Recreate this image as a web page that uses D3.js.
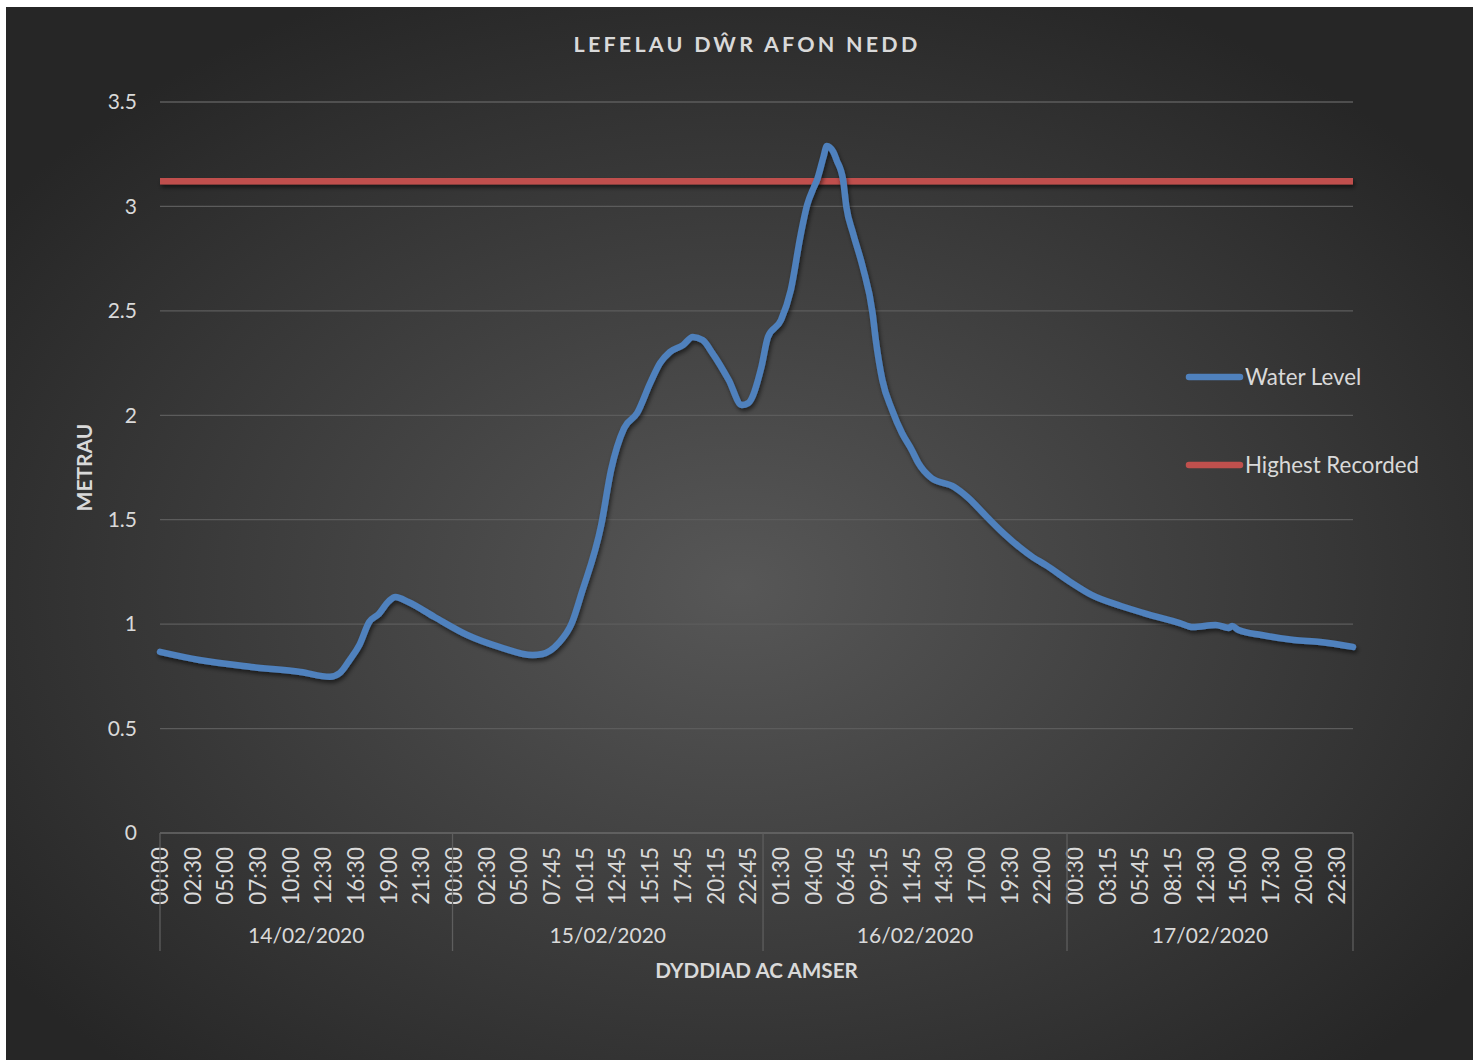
<!DOCTYPE html>
<html>
<head>
<meta charset="utf-8">
<script src="https://cdn.jsdelivr.net/npm/d3@7"></script>
<style>
  body { margin: 0; background: #fff; }
  svg { display: block; }
  text { font-family: Lato, "Open Sans", sans-serif; }
</style>
</head>
<body>
<div id="chart"></div>
<script>
// readings along the category axis (one reading = one category slot)
var pointCount = 366;
var labelStep = 10; // Excel shows every 10th reading

// water level readings: slot index and level in metres
var levelIndex = [0, 12, 28, 43, 52, 55, 58, 61, 64, 67, 70, 72, 76, 84, 94, 104, 114, 117, 122, 126,
  129, 135, 138, 142, 146, 150, 153, 156, 160, 163, 166, 169, 174, 178, 180, 184, 186, 190, 193, 196,
  198, 200, 201, 203, 204, 206, 207, 209, 210, 212, 215, 218, 219, 221, 224, 227, 230, 232, 236, 243,
  247, 253, 258, 267, 271, 279, 285, 294, 301, 312, 316, 323, 327, 328, 330, 337, 347, 355, 365];
var levelValue = [0.867, 0.828, 0.795, 0.771, 0.748, 0.766, 0.828, 0.90, 1.01, 1.05, 1.11, 1.13, 1.106, 1.034, 0.948, 0.89, 0.852, 0.857, 0.91, 1.005,
  1.149, 1.475, 1.738, 1.939, 2.011, 2.155, 2.25, 2.303, 2.336, 2.375, 2.36, 2.298, 2.169, 2.049, 2.059, 2.231, 2.375, 2.456, 2.6, 2.863,
  3.007, 3.09, 3.126, 3.237, 3.289, 3.261, 3.222, 3.126, 2.997, 2.873, 2.71, 2.49, 2.36, 2.169, 2.025, 1.915, 1.834, 1.772, 1.70, 1.657,
  1.609, 1.513, 1.436, 1.321, 1.283, 1.197, 1.14, 1.087, 1.053, 1.005, 0.986, 0.996, 0.982, 0.991, 0.972, 0.948, 0.924, 0.914, 0.891];
var highestRecorded = 3.12;

var timeLabels = ["00:00", "02:30", "05:00", "07:30", "10:00", "12:30", "16:30", "19:00", "21:30",
  "00:00", "02:30", "05:00", "07:45", "10:15", "12:45", "15:15", "17:45", "20:15", "22:45",
  "01:30", "04:00", "06:45", "09:15", "11:45", "14:30", "17:00", "19:30", "22:00",
  "00:30", "03:15", "05:45", "08:15", "12:30", "15:00", "17:30", "20:00", "22:30"];
var dayLabels = ["14/02/2020", "15/02/2020", "16/02/2020", "17/02/2020"];
var dayFirstIndex = [0, 90, 185, 278];

var yTicks = [0, 0.5, 1, 1.5, 2, 2.5, 3, 3.5];

var W = 1473, H = 1060;
var plot = { left: 160, right: 1353, top: 102, bottom: 833 };

var svg = d3.select("#chart").append("svg")
  .attr("width", W)
  .attr("height", H);

var defs = svg.append("defs");
var grad = defs.append("radialGradient")
  .attr("id", "bg")
  .attr("cx", "50%").attr("cy", "55%").attr("r", "62%");
grad.append("stop").attr("offset", "0%").attr("stop-color", "#575757");
grad.append("stop").attr("offset", "100%").attr("stop-color", "#262626");

// drop shadow under the series lines (user space so flat lines keep it)
var shadow = defs.append("filter")
  .attr("id", "shadow")
  .attr("filterUnits", "userSpaceOnUse")
  .attr("x", 0).attr("y", 0).attr("width", W).attr("height", H);
shadow.append("feDropShadow")
  .attr("dx", 1.5).attr("dy", 3).attr("stdDeviation", 2)
  .attr("flood-color", "#000").attr("flood-opacity", 0.55);

// chart background
svg.append("rect")
  .attr("x", 6).attr("y", 7)
  .attr("width", W - 6).attr("height", H - 7)
  .attr("fill", "url(#bg)");

var x = d3.scaleLinear().domain([0, pointCount - 1]).range([plot.left, plot.right]);
var y = d3.scaleLinear().domain([0, 3.5]).range([plot.bottom, plot.top]);

// gridlines
svg.append("g")
  .selectAll("line")
  .data(yTicks)
  .enter()
  .append("line")
  .attr("x1", plot.left)
  .attr("x2", plot.right)
  .attr("y1", function(d) { return y(d); })
  .attr("y2", function(d) { return y(d); })
  .attr("stroke", function(d) { return d === 0 ? "#6a6a6a" : "#5c5c5c"; })
  .attr("stroke-width", 1.3);

// y axis labels
var yAxis = svg.append("g")
  .attr("transform", "translate(" + plot.left + ",0)")
  .call(d3.axisLeft(y).tickValues(yTicks).tickSize(0).tickPadding(23).tickFormat(function(d) { return String(d); }));
yAxis.select(".domain").remove();
yAxis.selectAll("text")
  .attr("fill", "#d9d9d9")
  .style("font-family", "Lato, 'Open Sans', sans-serif")
  .style("font-size", "21px");

// time labels along the x axis
svg.append("g")
  .selectAll("text")
  .data(timeLabels)
  .enter()
  .append("text")
  .attr("transform", function(d, i) {
    return "translate(" + x(i * labelStep) + "," + 847 + ") rotate(-90)";
  })
  .attr("text-anchor", "end")
  .attr("dy", "0.35em")
  .attr("fill", "#d9d9d9")
  .style("font-size", "22.5px")
  .text(function(d) { return d; });

// day group separators
var bounds = [0];
for (var i = 1; i < dayFirstIndex.length; i++) bounds.push(dayFirstIndex[i] - 0.5);
bounds.push(pointCount - 1);

svg.append("g")
  .selectAll("line")
  .data(bounds)
  .enter()
  .append("line")
  .attr("x1", function(d) { return x(d); })
  .attr("x2", function(d) { return x(d); })
  .attr("y1", plot.bottom)
  .attr("y2", 951)
  .attr("stroke", "#5e5e5e")
  .attr("stroke-width", 1.3);

svg.append("g")
  .selectAll("text")
  .data(dayLabels)
  .enter()
  .append("text")
  .attr("x", function(d, i) { return (x(bounds[i]) + x(bounds[i + 1])) / 2; })
  .attr("y", 943)
  .attr("text-anchor", "middle")
  .attr("fill", "#d9d9d9")
  .style("font-size", "21px")
  .text(function(d) { return d; });

// highest recorded level
svg.append("line")
  .attr("x1", plot.left)
  .attr("x2", plot.right)
  .attr("y1", y(highestRecorded))
  .attr("y2", y(highestRecorded))
  .attr("stroke", "#c0504d")
  .attr("stroke-width", 6.5)
  .attr("filter", "url(#shadow)");

// water level
var levels = levelIndex.map(function(d, i) { return [d, levelValue[i]]; });
var line = d3.line()
  .x(function(d) { return x(d[0]); })
  .y(function(d) { return y(d[1]); })
  .curve(d3.curveMonotoneX);

svg.append("path")
  .datum(levels)
  .attr("fill", "none")
  .attr("stroke", "#4f81bd")
  .attr("stroke-width", 6.5)
  .attr("stroke-linejoin", "round")
  .attr("stroke-linecap", "round")
  .attr("filter", "url(#shadow)")
  .attr("d", line);

// titles
svg.append("text")
  .attr("x", 747)
  .attr("y", 52)
  .attr("text-anchor", "middle")
  .attr("fill", "#d9d9d9")
  .style("font-size", "21.5px")
  .style("font-weight", "bold")
  .style("letter-spacing", "3.2px")
  .text("LEFELAU DŴR AFON NEDD");

svg.append("text")
  .attr("x", (plot.left + plot.right) / 2)
  .attr("y", 978)
  .attr("text-anchor", "middle")
  .attr("fill", "#d9d9d9")
  .style("font-size", "20.7px")
  .style("font-weight", "bold")
  .text("DYDDIAD AC AMSER");

svg.append("text")
  .attr("transform", "translate(92," + (plot.top + plot.bottom) / 2 + ") rotate(-90)")
  .attr("text-anchor", "middle")
  .attr("fill", "#d9d9d9")
  .style("font-size", "21px")
  .style("font-weight", "bold")
  .text("METRAU");

// legend
var legend = [
  { name: "Water Level", color: "#4f81bd", y: 377 },
  { name: "Highest Recorded", color: "#c0504d", y: 465 }
];
var lg = svg.append("g")
  .selectAll("g")
  .data(legend)
  .enter()
  .append("g");
lg.append("line")
  .attr("x1", 1189).attr("x2", 1240)
  .attr("y1", function(d) { return d.y; })
  .attr("y2", function(d) { return d.y; })
  .attr("stroke", function(d) { return d.color; })
  .attr("stroke-width", 6.5)
  .attr("stroke-linecap", "round");
lg.append("text")
  .attr("x", 1245)
  .attr("y", function(d) { return d.y; })
  .attr("dy", "0.35em")
  .attr("fill", "#d9d9d9")
  .style("font-size", "22.3px")
  .text(function(d) { return d.name; });
</script>
</body>
</html>
